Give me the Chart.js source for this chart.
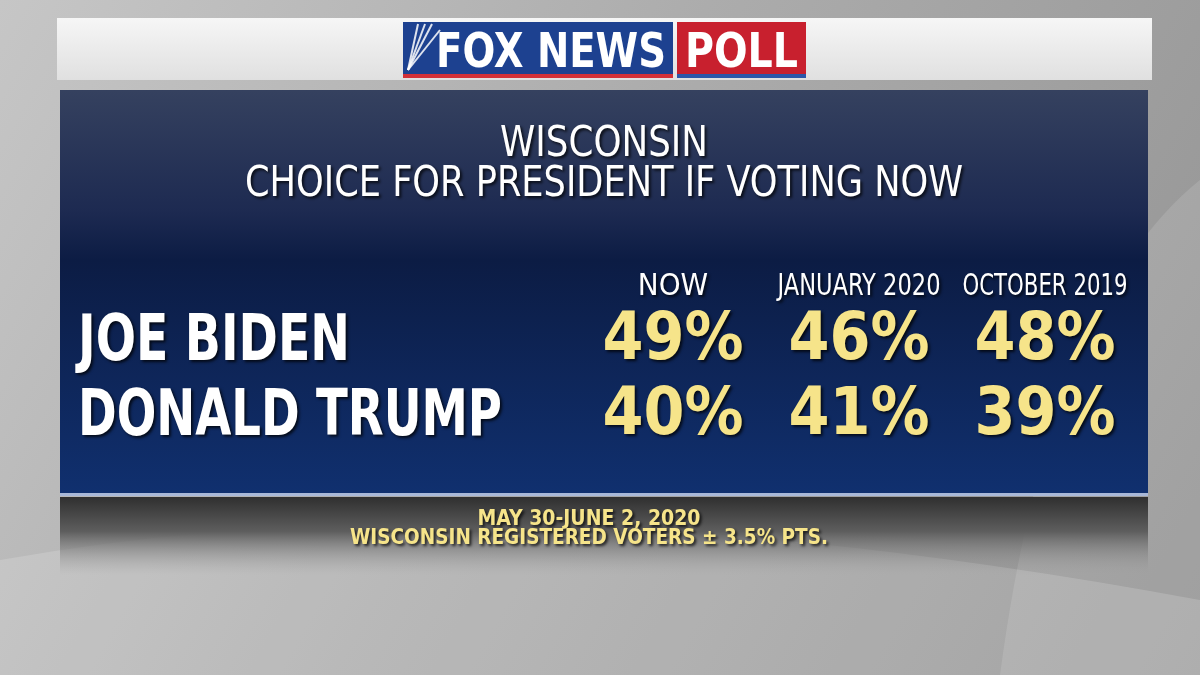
<!DOCTYPE html>
<html>
<head>
<meta charset="utf-8">
<script src="https://cdn.jsdelivr.net/npm/chart.js@4"></script>
<style>
  html, body { margin: 0; padding: 0; background: #aaaaaa; }
  #wrap { width: 1200px; height: 675px; }
</style>
</head>
<body>
<div id="wrap"><canvas id="myChart" width="1200" height="675"></canvas></div>
<script>
var columns = ['NOW', 'JANUARY 2020', 'OCTOBER 2019'];
var candidates = ['JOE BIDEN', 'DONALD TRUMP'];
var bidenValues = [49, 46, 48];
var trumpValues = [40, 41, 39];
var titleLines = ['WISCONSIN', 'CHOICE FOR PRESIDENT IF VOTING NOW'];
var footerLines = ['MAY 30-JUNE 2, 2020', 'WISCONSIN REGISTERED VOTERS \u00b1 3.5% PTS.'];

var COND = '"DejaVu Sans Condensed", "DejaVu Sans", sans-serif';
var YELLOW = '#f6e48a';

function toPoints(name, values) {
  return values.map(function (v, i) { return { x: columns[i], y: name, v: v }; });
}

// text with a soft drop shadow, squeezed to a width like the narrow broadcast font
function shadowText(c, text, x, y, color, maxW) {
  c.save();
  c.shadowColor = 'rgba(0,0,0,0.75)';
  c.shadowBlur = 3;
  c.shadowOffsetX = 2;
  c.shadowOffsetY = 2;
  c.fillStyle = color;
  if (maxW) c.fillText(text, x, y, maxW);
  else c.fillText(text, x, y);
  c.restore();
}

var backdrop = {
  id: 'backdrop',
  beforeDraw: function (chart) {
    var c = chart.ctx;
    c.save();
    // grey studio background
    var g = c.createLinearGradient(0, 0, 1200, 675);
    g.addColorStop(0, '#c6c6c6');
    g.addColorStop(0.45, '#acacac');
    g.addColorStop(1, '#929292');
    c.fillStyle = g;
    c.fillRect(0, 0, 1200, 675);
    c.fillStyle = 'rgba(255,255,255,0.16)';
    c.beginPath();
    c.moveTo(0, 560);
    c.quadraticCurveTo(500, 470, 1200, 600);
    c.lineTo(1200, 675);
    c.lineTo(0, 675);
    c.closePath();
    c.fill();
    c.fillStyle = 'rgba(255,255,255,0.12)';
    c.beginPath();
    c.moveTo(1200, 180);
    c.quadraticCurveTo(1050, 300, 1000, 675);
    c.lineTo(1200, 675);
    c.closePath();
    c.fill();

    // reflection under panel
    var r = c.createLinearGradient(0, 496, 0, 575);
    r.addColorStop(0, '#2e2e2e');
    r.addColorStop(0.45, '#5e5e5e');
    r.addColorStop(1, 'rgba(160,160,160,0)');
    c.fillStyle = r;
    c.fillRect(60, 497, 1088, 78);

    // white header strip
    var w = c.createLinearGradient(0, 18, 0, 80);
    w.addColorStop(0, '#f6f6f6');
    w.addColorStop(1, '#e0e0e0');
    c.fillStyle = w;
    c.fillRect(57, 18, 1095, 62);

    // logo
    c.fillStyle = '#1d4190';
    c.fillRect(403, 22, 270, 52);
    c.fillStyle = '#c8202e';
    c.fillRect(677, 22, 129, 52);
    c.fillStyle = '#d23038';
    c.fillRect(403, 74, 270, 4);
    c.fillStyle = '#2c56a8';
    c.fillRect(677, 74, 129, 4);
    c.strokeStyle = 'rgba(255,255,255,0.85)';
    c.lineWidth = 2;
    [[418, 24], [425, 24], [432, 24], [440, 30]].forEach(function (p) {
      c.beginPath();
      c.moveTo(p[0], p[1]);
      c.lineTo(408, 70);
      c.stroke();
    });
    c.fillStyle = '#ffffff';
    c.textAlign = 'left';
    c.textBaseline = 'alphabetic';
    c.font = 'bold 48px ' + COND;
    c.fillText('FOX NEWS', 436, 67, 230);
    c.fillText('POLL', 685, 67, 113);

    // blue panel
    var b = c.createLinearGradient(0, 90, 0, 495);
    b.addColorStop(0, '#35415f');
    b.addColorStop(0.3, '#1d2a51');
    b.addColorStop(0.42, '#0c1c44');
    b.addColorStop(1, '#10306f');
    c.fillStyle = b;
    c.fillRect(60, 90, 1088, 405);
    c.fillStyle = '#a8b8d8';
    c.fillRect(60, 493, 1088, 3);

    // titles
    c.textAlign = 'center';
    c.font = '42px ' + COND;
    shadowText(c, titleLines[0], 604, 156, '#ffffff', 208);
    shadowText(c, titleLines[1], 604, 196, '#ffffff', 718);

    // footer
    c.font = 'bold 21px ' + COND;
    shadowText(c, footerLines[0], 589, 525, YELLOW, 236);
    shadowText(c, footerLines[1], 589, 544, YELLOW, 478);
    c.restore();
  }
};

var headerWidths = [71, 163, 165];
var labelWidths = [272, 424];

var cells = {
  id: 'cells',
  afterDatasetsDraw: function (chart) {
    var c = chart.ctx;
    var xs = chart.scales.x, ys = chart.scales.y;
    c.save();
    c.textBaseline = 'alphabetic';
    c.textAlign = 'center';
    c.font = '31px ' + COND;
    columns.forEach(function (col, i) {
      shadowText(c, col, xs.getPixelForValue(i), 295, '#ffffff', headerWidths[i]);
    });
    c.textAlign = 'left';
    c.font = 'bold 64px ' + COND;
    candidates.forEach(function (name, i) {
      shadowText(c, name, 78, ys.getPixelForValue(i) + 23, '#ffffff', labelWidths[i]);
    });
    c.textAlign = 'center';
    c.font = 'bold 66px ' + COND;
    chart.data.datasets.forEach(function (ds, di) {
      chart.getDatasetMeta(di).data.forEach(function (pt, j) {
        shadowText(c, ds.data[j].v + '%', pt.x, pt.y + 22, YELLOW, 141);
      });
    });
    c.restore();
  }
};

var ctx = document.getElementById('myChart').getContext('2d');
var myChart = new Chart(ctx, {
  type: 'scatter',
  data: {
    datasets: [
      { label: candidates[0], data: toPoints(candidates[0], bidenValues), pointRadius: 0 },
      { label: candidates[1], data: toPoints(candidates[1], trumpValues), pointRadius: 0 }
    ]
  },
  options: {
    responsive: false,
    animation: false,
    layout: { padding: { left: 580, right: 62, top: 299, bottom: 226 } },
    scales: {
      x: { type: 'category', labels: columns, offset: true, display: false },
      y: { type: 'category', labels: candidates, offset: true, display: false }
    },
    plugins: {
      legend: { display: false },
      tooltip: { enabled: false }
    }
  },
  plugins: [backdrop, cells]
});
</script>
</body>
</html>
